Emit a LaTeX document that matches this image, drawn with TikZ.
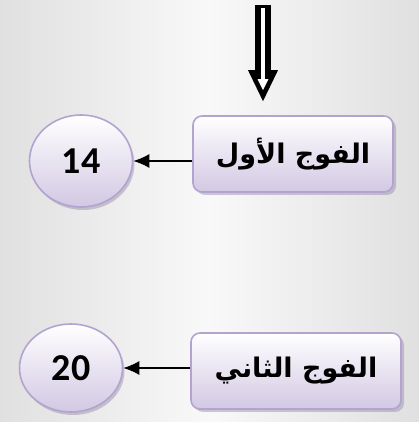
\documentclass[tikz,border=0pt]{standalone}
\usepackage{fontspec}
\setmainfont{Carlito}
\newfontfamily\arabicfont[Script=Arabic]{DejaVu Sans}
\TeXXeTstate=1
\usetikzlibrary{shadows}
\usetikzlibrary{shapes.geometric}
\usetikzlibrary{arrows.meta}
\definecolor{lilac}{HTML}{B2A3D0}
\definecolor{lilacfill}{HTML}{D2C8E3}
\definecolor{bggray}{HTML}{E0E0E0}

\begin{document}
\begin{tikzpicture}[x=1pt,y=1pt]
\tikzset{group box/.style = {rectangle, rounded corners=9pt, draw=lilac, line width=1.6pt,
    top color=white, bottom color=lilacfill, minimum width=200pt, minimum height=76pt,
    drop shadow={shadow xshift=3pt, shadow yshift=-3pt, fill=lilac!55!gray},
    font=\arabicfont\bfseries\fontsize{27}{30}\selectfont}}
\tikzset{count node/.style = {ellipse, draw=lilac, line width=1.6pt, inner sep=0pt,
    top color=white, bottom color=lilacfill, minimum width=103pt, minimum height=92pt,
    drop shadow={shadow xshift=2pt, shadow yshift=-3pt, fill=lilac!55!gray},
    font=\bfseries\fontsize{38}{40}\selectfont}}
\tikzset{edge/.style = {-{Latex[length=16pt,width=14pt]}, line width=1.4pt}}

   % background
   \useasboundingbox (0,0) rectangle (419,422);
   \shade[left color=bggray, right color=bggray, middle color=gray!5] (0,0) rectangle (419,422);

   \node[group box] (first) at (293,268) {\beginR الفوج الأول\endR};
   \node[group box, minimum width=210pt] (second) at (296,51) {\beginR الفوج الثاني\endR};

   \node[count node] (n14) at (81,261) {14};
   \node[count node, minimum height=88pt] (n20) at (71,54) {20};

   \draw[edge] (first.west |- n14) -- (n14.east);
   \draw[edge] (second.west |- n20) -- (n20.east);

   % hollow arrow into the first group
   \coordinate (src) at (263,417);
   \coordinate (tip) at ([yshift=14pt]first.north -| src);
   \draw[line width=16pt, -{Triangle[length=31pt,width=30pt,line width=0pt]}] (src) -- (tip);
   \draw[white, line width=4pt, -{Triangle[length=11pt,width=11pt,line width=0pt]}]
      ([yshift=-3pt]src) -- ([yshift=11pt]tip);

\end{tikzpicture}
\end{document}
